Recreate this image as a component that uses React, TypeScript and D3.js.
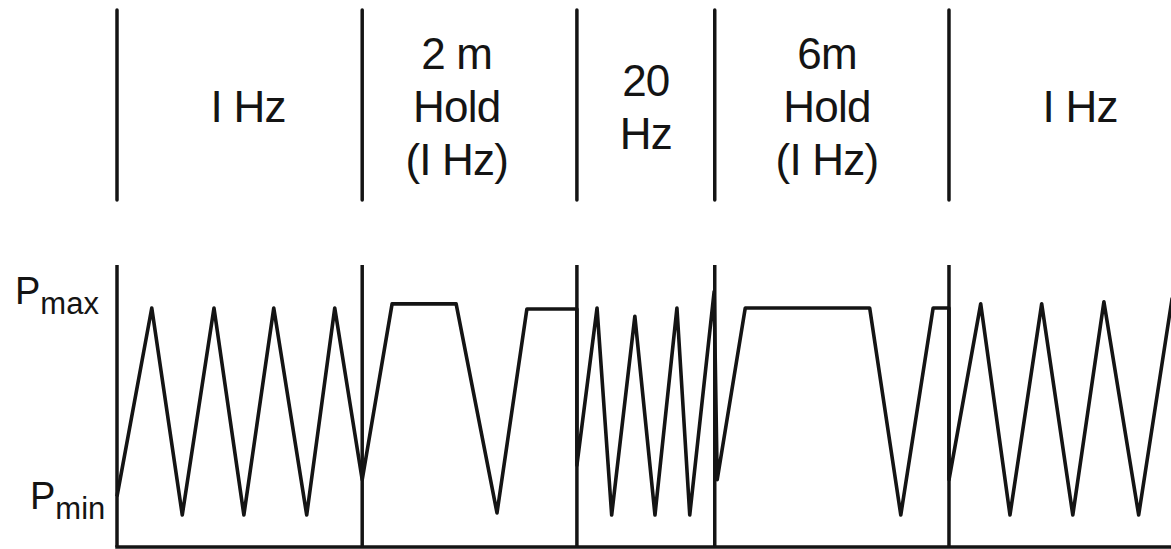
import React from "react";
import * as d3 from "d3";

// time in seconds (schematic), value: 0 = Pmin, 1 = Pmax
const waveTime = [
  0, 0.57, 1.07, 1.59, 2.08, 2.57, 3.11, 3.57, 4.02,
  4.51, 5.56, 6.23, 6.72, 7.54,
  7.54, 7.87, 8.11, 8.49, 8.82, 9.18, 9.39, 9.79,
  9.84, 10.3, 12.34, 12.85, 13.38, 13.64,
  13.64, 14.16, 14.64, 15.16, 15.67, 16.18, 16.75, 17.3,
];
const waveValue = [
  0.09, 1, 0, 1, 0, 1, 0, 1, 0.17,
  1.02, 1.02, 0.01, 0.995, 0.995,
  0.24, 1.0, 0, 0.96, 0, 1.0, 0, 1.08,
  0.17, 1.0, 1.0, 0, 1.0, 1.0,
  0.17, 1.02, 0, 1.02, 0, 1.03, 0, 1.05,
];

const dividers = [0, 4.02, 7.54, 9.8, 13.64];
const segmentLabelCenters = [2.15, 5.57, 8.67, 11.64, 15.79];
const segmentLabels: string[][] = [
  ["I Hz"],
  ["2 m", "Hold", "(I Hz)"],
  ["20", "Hz"],
  ["6m", "Hold", "(I Hz)"],
  ["I Hz"],
];
const levelLabels = [
  { base: "P", sub: "max", value: 1 },
  { base: "P", sub: "min", value: 0 },
];

const W = 1171;
const H = 549;
const FONT = "'Liberation Sans', Arial, sans-serif";
const INK = "#141414";

export default function App() {
  const x = d3.scaleLinear().domain([0, 17.28]).range([117, 1171]);
  const y = d3.scaleLinear().domain([0, 1]).range([515, 308]);
  const pts: [number, number][] = waveTime.map((t, i) => [t, waveValue[i]]);
  const line = d3
    .line<[number, number]>()
    .x((d) => x(d[0]))
    .y((d) => y(d[1]))
    .curve(d3.curveLinear);

  const panelTop = 265;
  const panelBottom = 547;
  const headTop = 10;
  const headBottom = 200;
  const lineGap = 53;
  const headMid = 122;

  return (
    <svg
      width={W}
      height={H}
      style={{ position: "absolute", left: 0, top: 0, background: "#fff" }}
    >
      <rect x={0} y={0} width={W} height={H} fill="#fff" />
      {/* header dividers */}
      {dividers.map((d, i) => (
        <line
          key={"h" + i}
          x1={x(d)}
          x2={x(d)}
          y1={headTop}
          y2={headBottom}
          stroke={INK}
          strokeWidth={3.5}
          strokeLinecap="round"
        />
      ))}
      {/* header labels */}
      {segmentLabels.map((lines, i) => (
        <text
          key={"l" + i}
          textAnchor="middle"
          fontFamily={FONT}
          fontSize={44}
          letterSpacing={-0.8}
          fill={INK}
        >
          {lines.map((s, j) => (
            <tspan
              key={j}
              x={x(segmentLabelCenters[i])}
              y={headMid + (j - (lines.length - 1) / 2) * lineGap}
            >
              {s}
            </tspan>
          ))}
        </text>
      ))}
      {/* lower panel dividers */}
      {dividers.map((d, i) => (
        <line
          key={"p" + i}
          x1={x(d)}
          x2={x(d)}
          y1={panelTop}
          y2={panelBottom}
          stroke={INK}
          strokeWidth={3.5}
        />
      ))}
      {/* baseline */}
      <line
        x1={x(0) - 1.75}
        x2={W}
        y1={panelBottom}
        y2={panelBottom}
        stroke={INK}
        strokeWidth={3.5}
      />
      {/* waveform */}
      <path
        d={line(pts) || ""}
        fill="none"
        stroke={INK}
        strokeWidth={3.6}
        strokeLinejoin="round"
      />
      {/* level labels */}
      {levelLabels.map((l, i) => (
        <text
          key={"v" + i}
          x={l.sub === "max" ? 15 : 30}
          y={y(l.value) + (l.sub === "max" ? -4 : -6)}
          fontFamily={FONT}
          fill={INK}
        >
          <tspan fontSize={38}>{l.base}</tspan>
          <tspan fontSize={31} dy={10}>
            {l.sub}
          </tspan>
        </text>
      ))}
    </svg>
  );
}
